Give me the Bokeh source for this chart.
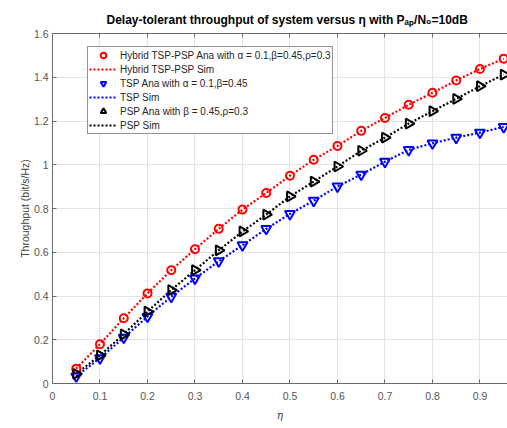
import math
from bokeh.plotting import figure
from bokeh.models import (Range1d, LinearAxis, FixedTicker, CustomJSTickFormatter,
                          Legend, LegendItem, ColumnDataSource)
from bokeh.embed import file_html
from bokeh.resources import INLINE

# ---- data ----
eta = [0.05, 0.10, 0.15, 0.20, 0.25, 0.30, 0.35, 0.40, 0.45, 0.50,
       0.55, 0.60, 0.65, 0.70, 0.75, 0.80, 0.85, 0.90, 0.95]
hybrid_ana = [0.068, 0.180, 0.298, 0.412, 0.518, 0.614, 0.707, 0.795, 0.871, 0.950,
              1.023, 1.086, 1.155, 1.214, 1.274, 1.329, 1.385, 1.438, 1.485]
hybrid_sim = [0.068, 0.180, 0.298, 0.412, 0.518, 0.614, 0.707, 0.795, 0.871, 0.950,
              1.023, 1.086, 1.155, 1.214, 1.274, 1.329, 1.385, 1.438, 1.485]
tsp_ana = [0.033, 0.116, 0.210, 0.306, 0.397, 0.480, 0.559, 0.632, 0.707, 0.775,
           0.836, 0.901, 0.955, 1.014, 1.068, 1.098, 1.124, 1.147, 1.173]
tsp_sim = [0.033, 0.116, 0.210, 0.306, 0.397, 0.480, 0.559, 0.632, 0.707, 0.775,
           0.836, 0.901, 0.955, 1.014, 1.068, 1.098, 1.124, 1.147, 1.173]
psp_ana = [0.044, 0.129, 0.225, 0.329, 0.427, 0.518, 0.609, 0.695, 0.772, 0.855,
           0.923, 0.992, 1.064, 1.124, 1.188, 1.245, 1.301, 1.359, 1.412]
psp_sim = [0.044, 0.129, 0.225, 0.329, 0.427, 0.518, 0.609, 0.695, 0.772, 0.855,
           0.923, 0.992, 1.064, 1.124, 1.188, 1.245, 1.301, 1.359, 1.412]

x_ticks = [0, 0.1, 0.2, 0.3, 0.4, 0.5, 0.6, 0.7, 0.8, 0.9]
y_ticks = [0, 0.2, 0.4, 0.6, 0.8, 1.0, 1.2, 1.4, 1.6]

labels = [
    "Hybrid TSP-PSP Ana with α = 0.1,β=0.45,ρ=0.3",
    "Hybrid TSP-PSP Sim",
    "TSP Ana with α = 0.1,β=0.45",
    "TSP Sim",
    "PSP Ana with β = 0.45,ρ=0.3",
    "PSP Sim",
]
title_text = "Delay-tolerant throughput of system versus η with Pₐₚ/N₀=10dB"

FONT = "Liberation Sans"

p = figure(width=507, height=428, output_backend="svg", toolbar_location=None,
           x_range=Range1d(0, 0.958), y_range=Range1d(0, 1.6),
           min_border_left=52, min_border_right=0, min_border_top=33,
           min_border_bottom=45, x_axis_label="η",
           y_axis_label="Throughput (bit/s/Hz)")
p.outline_line_color = None
p.background_fill_color = "white"
p.border_fill_color = "white"

p.title.text = title_text
p.title.text_font = FONT
p.title.text_font_size = "12px"
p.title.text_font_style = "bold"
p.title.text_color = "#000000"
p.title.align = "left"
p.title.offset = 54
p.title.standoff = 14

fmt = CustomJSTickFormatter(code="return tick.toFixed(1).replace(/\\.0$/, '');")

for ax, ticks in ((p.xaxis[0], x_ticks), (p.yaxis[0], y_ticks)):
    ax.ticker = FixedTicker(ticks=ticks)
    ax.formatter = fmt
    ax.major_tick_in = 4
    ax.major_tick_out = 0
    ax.minor_tick_in = 0
    ax.minor_tick_out = 0
    ax.axis_line_color = "#6a6a6a"
    ax.major_tick_line_color = "#6a6a6a"
    ax.major_label_text_font = FONT
    ax.major_label_text_font_size = "10.5px"
    ax.major_label_text_color = "#555555"
    ax.axis_label_text_font = FONT
    ax.axis_label_text_font_size = "10.5px"
    ax.axis_label_text_color = "#444444"
    ax.axis_label_text_font_style = "normal"

p.xaxis.major_label_standoff = 8
p.xaxis.axis_label_standoff = 6
p.xaxis.axis_label_text_font = "DejaVu Serif"
p.xaxis.axis_label_text_font_style = "italic"
p.yaxis.major_label_standoff = 4
p.yaxis.axis_label_standoff = 0

blank = CustomJSTickFormatter(code="return '';")
top_axis = LinearAxis(ticker=FixedTicker(ticks=x_ticks), formatter=blank,
                      major_label_standoff=0, major_tick_in=4, major_tick_out=0,
                      minor_tick_in=0, minor_tick_out=0,
                      axis_line_color="#6a6a6a", major_tick_line_color="#6a6a6a")
p.add_layout(top_axis, "above")

p.xgrid.ticker = FixedTicker(ticks=x_ticks)
p.ygrid.ticker = FixedTicker(ticks=y_ticks)
for g in (p.xgrid[0], p.ygrid[0]):
    g.grid_line_color = "#e3e3e3"
    g.grid_line_width = 1

src = ColumnDataSource(dict(eta=eta, hybrid_ana=hybrid_ana, hybrid_sim=hybrid_sim,
                            tsp_ana=tsp_ana, tsp_sim=tsp_sim,
                            psp_ana=psp_ana, psp_sim=psp_sim))

dash = "2 2"
lw = 2.2
r_hs = p.line("eta", "hybrid_sim", source=src, line_color="#ff0000", line_width=lw, line_dash=dash)
r_ts = p.line("eta", "tsp_sim", source=src, line_color="#0000ff", line_width=lw, line_dash=dash)
r_ps = p.line("eta", "psp_sim", source=src, line_color="#000000", line_width=lw, line_dash=dash)

r_ha = p.scatter("eta", "hybrid_ana", source=src, marker="circle", size=8,
                 fill_color=None, line_color="#ff0000", line_width=2)
r_ta = p.scatter("eta", "tsp_ana", source=src, marker="inverted_triangle", size=10,
                 fill_color=None, line_color="#0000ff", line_width=2)
r_pa = p.scatter("eta", "psp_ana", source=src, marker="triangle", size=10, angle=-math.pi / 2,
                 fill_color=None, line_color="#000000", line_width=2)

legend = Legend(items=[
    LegendItem(label=labels[0], renderers=[r_ha]),
    LegendItem(label=labels[1], renderers=[r_hs]),
    LegendItem(label=labels[2], renderers=[r_ta]),
    LegendItem(label=labels[3], renderers=[r_ts]),
    LegendItem(label=labels[4], renderers=[r_pa]),
    LegendItem(label=labels[5], renderers=[r_ps]),
], location=(35, 249))
legend.label_text_font = FONT
legend.label_text_font_size = "10px"
legend.label_text_color = "#262626"
legend.glyph_width = 28
legend.glyph_height = 14
legend.label_height = 14
legend.spacing = 0
legend.padding = 1
legend.margin = 0
legend.label_standoff = 3
legend.border_line_color = "#262626"
legend.border_line_width = 1
legend.background_fill_color = "white"
legend.background_fill_alpha = 1
p.add_layout(legend, "center")

open("out.html", "w").write(file_html(p, INLINE))
